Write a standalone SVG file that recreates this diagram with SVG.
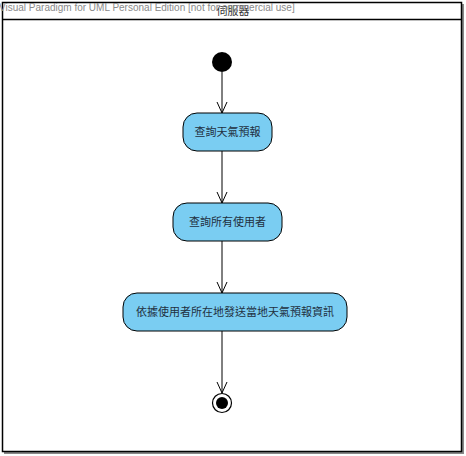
<svg xmlns="http://www.w3.org/2000/svg" width="466" height="456" viewBox="0 0 466 456">
<defs>
<style>
.act{fill:#7ACDF2;stroke:#000;stroke-width:1}
.lbl{font-family:"Noto Sans CJK TC","Liberation Sans",sans-serif;font-size:11px;fill:#22303f;text-anchor:middle}
.edge{stroke:#000;stroke-width:1;fill:none}
</style>
<marker id="arr" viewBox="0 0 12 12" refX="11" refY="6" markerWidth="12" markerHeight="12" markerUnits="userSpaceOnUse" orient="auto">
<path d="M0,1 L11,6 L0,11" fill="none" stroke="#000" stroke-width="1"/>
</marker>
</defs>
<rect width="466" height="456" fill="#fff"/>
<g id="lane">
<rect x="4" y="4" width="460" height="450" fill="#888"/>
<rect x="2.5" y="2.5" width="459" height="449" fill="#fff" stroke="#000" stroke-width="1.5"/>
<line x1="2.5" y1="19.5" x2="461.5" y2="19.5" stroke="#000" stroke-width="1.5"/>
<text x="233" y="15" class="lbl" style="font-size:11px;fill:#333">伺服器</text>
</g>
<text x="-1" y="11" style="font-family:'Liberation Sans',sans-serif;font-size:10px;fill:#8a8a8a">Visual Paradigm for UML Personal Edition [not for commercial use]</text>
<g id="connectors">
<line class="edge" x1="222" y1="72" x2="222" y2="113" marker-end="url(#arr)"/>
<line class="edge" x1="222" y1="151" x2="222" y2="203" marker-end="url(#arr)"/>
<line class="edge" x1="222" y1="241" x2="222" y2="293" marker-end="url(#arr)"/>
<line class="edge" x1="222" y1="331" x2="222" y2="393" marker-end="url(#arr)"/>
</g>
<g id="start"><circle cx="222" cy="62" r="10" fill="#000"/></g>
<g id="a1"><rect class="act" x="183" y="113" width="89" height="38" rx="14"/><text class="lbl" x="227.5" y="136">查詢天氣預報</text></g>
<g id="a2"><rect class="act" x="173" y="203" width="109" height="38" rx="14"/><text class="lbl" x="227.5" y="226">查詢所有使用者</text></g>
<g id="a3"><rect class="act" x="123" y="293" width="224" height="38" rx="14"/><text class="lbl" x="235" y="316">依據使用者所在地發送當地天氣預報資訊</text></g>
<g id="end"><circle cx="222" cy="403" r="9.5" fill="#fff" stroke="#000" stroke-width="1.2"/><circle cx="222" cy="403" r="6" fill="#000"/></g>
</svg>
